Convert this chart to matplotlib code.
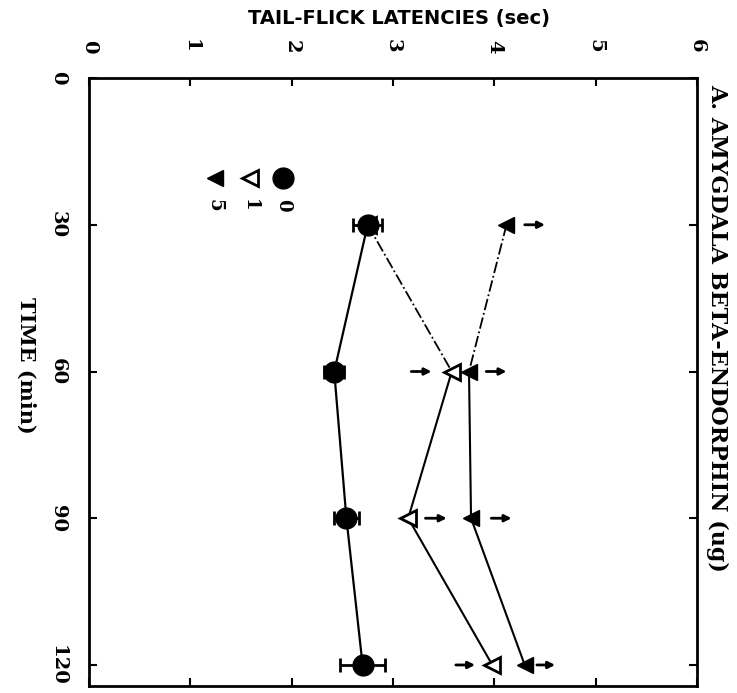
import numpy as np
import matplotlib.pyplot as plt

# Datos (gráfico girado 90°)
time_min = [30, 60, 90, 120]
lat_0 = [2.75, 2.42, 2.54, 2.70]
err_0 = [0.14, 0.10, 0.12, 0.22]
lat_1 = [2.75, 3.58, 3.15, 3.98]
lat_5 = [4.12, 3.75, 3.77, 4.30]

# flechas (inicio, fin) a la derecha/izquierda de los triángulos
arrow_time = [30, 60, 60, 90, 90, 120, 120]
arrow_start = [4.30, 3.18, 3.92, 3.32, 3.97, 3.62, 4.42]
arrow_end = [4.50, 3.38, 4.12, 3.53, 4.17, 3.81, 4.60]

lat_ticks = [0, 1, 2, 3, 4, 5, 6]
time_ticks = [0, 30, 60, 90, 120]
legend_labels = ["5", "1", "0"]

serif = "DejaVu Serif"

fig = plt.figure(figsize=(7.37, 6.93), dpi=100)
ax = fig.add_axes([0.1208, 0.0101, 0.8249, 0.8773])
ax.set_xlim(0, 6)
ax.set_ylim(124.3, 0)

# líneas (primer tramo de los triángulos en trazo-punto)
ax.plot(lat_0, time_min, color="black", lw=1.6, zorder=2)
ax.plot(lat_1[:2], time_min[:2], color="black", lw=1.3, ls="-.", zorder=2)
ax.plot(lat_1[1:], time_min[1:], color="black", lw=1.5, zorder=2)
ax.plot(lat_5[:2], time_min[:2], color="black", lw=1.3, ls="-.", zorder=2)
ax.plot(lat_5[1:], time_min[1:], color="black", lw=1.5, zorder=2)

ax.plot(lat_1, time_min, ls="none", marker="<", ms=12, mfc="white", mec="black", mew=2, zorder=3)
ax.plot(lat_5, time_min, ls="none", marker="<", ms=12, color="black", zorder=3)
ax.errorbar(lat_0, time_min, xerr=err_0, fmt="o", ms=15, color="black",
            ecolor="black", elinewidth=2, capsize=5, capthick=2, zorder=4)

for t, x0, x1 in zip(arrow_time, arrow_start, arrow_end):
    ax.annotate("", xy=(x1, t), xytext=(x0, t),
                arrowprops=dict(arrowstyle="-|>", color="black", lw=2,
                                mutation_scale=10, shrinkA=0, shrinkB=0))

# leyenda girada
leg_x = [0.207, 0.265, 0.319]
ax.plot(leg_x[0], 0.836, transform=ax.transAxes, marker="<", ms=12, color="black")
ax.plot(leg_x[1], 0.836, transform=ax.transAxes, marker="<", ms=12, mfc="white",
        mec="black", mew=2)
ax.plot(leg_x[2], 0.836, transform=ax.transAxes, marker="o", ms=15, color="black")
for x, lab in zip(leg_x, legend_labels):
    ax.text(x, 0.79, lab, transform=ax.transAxes, rotation=-90, ha="center",
            va="center", fontsize=13, fontweight="bold", family=serif)

# ejes
ax.xaxis.tick_top()
ax.set_xticks(lat_ticks)
ax.set_xticklabels([str(v) for v in lat_ticks], rotation=-90, fontsize=14,
                   fontweight="bold", family=serif)
ax.set_yticks(time_ticks)
ax.set_yticklabels([str(v) for v in time_ticks], rotation=-90, fontsize=14,
                   fontweight="bold", family=serif, va="center")
ax.tick_params(axis="both", direction="in", length=6, width=1.5,
               top=True, bottom=True, left=True, right=True)
ax.tick_params(axis="x", pad=18)
ax.tick_params(axis="y", pad=16)
for s in ax.spines.values():
    s.set_linewidth(2)

fig.text(0.542, 0.974, "TAIL-FLICK LATENCIES (sec)", ha="center", va="center",
         fontsize=14, fontweight="bold")
fig.text(0.036, 0.473, "TIME (min)", rotation=-90, ha="center", va="center",
         fontsize=15, fontweight="bold", family=serif)
ax.text(1.033, 0.99, "A. AMYGDALA BETA-ENDORPHIN (ug)", transform=ax.transAxes,
        rotation=-90, ha="center", va="top", fontsize=16, fontweight="bold",
        family=serif)

fig.savefig("out.png", dpi=100)
